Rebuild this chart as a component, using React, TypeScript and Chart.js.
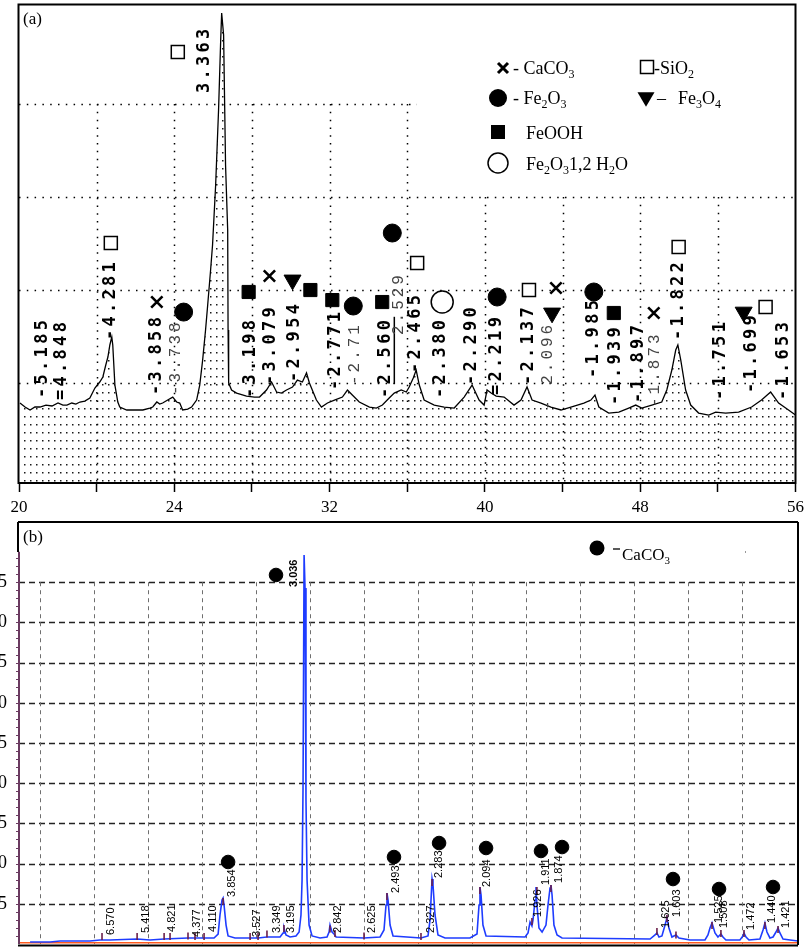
import React, { useEffect, useRef } from 'react';
import { Chart, registerables } from 'chart.js';

Chart.register(...registerables);

const SERIF = "'Liberation Serif', 'Times New Roman', serif";
const MONO = "'DejaVu Sans Mono', monospace";
const LIGHTMONO = "'Liberation Mono', monospace";
const NARROW = "'Liberation Sans Narrow', 'Liberation Sans', Arial, sans-serif";

// ---------------- Panel (a) ----------------
const aTheta = [16.05, 16.31, 16.57, 16.82, 17.08, 17.39, 17.70, 18.01, 18.26, 18.47, 18.72, 18.93, 19.14, 19.39, 19.65, 19.91, 20.16, 20.32, 20.47, 20.58, 20.68, 20.78, 20.83, 20.94, 21.09, 21.19, 21.55, 21.96, 22.38, 22.74, 22.89, 23.10, 23.25, 23.40, 23.66, 23.92, 24.12, 24.28, 24.43, 24.69, 24.89, 25.15, 25.31, 25.46, 25.61, 25.72, 25.87, 25.97, 26.13, 26.28, 26.39, 26.44, 26.54, 26.59, 26.64, 26.75, 26.77, 26.80, 26.95, 27.21, 27.72, 28.13, 28.39, 28.75, 29.01, 29.27, 29.52, 29.78, 30.09, 30.34, 30.60, 30.81, 30.96, 31.32, 31.58, 31.89, 32.25, 32.66, 32.92, 33.17, 33.53, 34.05, 34.41, 34.72, 35.07, 35.33, 35.69, 35.95, 36.10, 36.31, 36.46, 36.62, 36.87, 37.39, 37.90, 38.42, 38.93, 39.34, 39.70, 39.96, 40.11, 40.32, 40.58, 40.99, 41.50, 41.86, 42.17, 42.43, 42.89, 43.40, 43.92, 44.43, 45.10, 45.46, 45.67, 45.87, 46.38, 46.90, 47.41, 47.77, 48.08, 48.60, 49.11, 49.37, 49.63, 49.83, 49.94, 50.09, 50.34, 50.60, 51.01, 51.53, 51.89, 52.40, 53.07, 53.74, 54.25, 54.72, 55.13, 55.64, 56.0];
const aIntensity = [78.5, 74.2, 71.0, 74.2, 74.2, 76.3, 75.3, 78.5, 76.3, 76.3, 78.5, 77.4, 79.6, 80.6, 83.9, 94.6, 101.1, 106.5, 119.4, 128.0, 140.9, 149.5, 140.9, 97.8, 79.6, 74.2, 71.0, 71.0, 71.0, 73.1, 74.2, 79.6, 77.4, 78.5, 81.7, 84.9, 79.6, 78.5, 71.0, 72.0, 74.2, 81.7, 97.8, 124.7, 157.0, 183.9, 221.5, 248.4, 312.9, 393.6, 468.8, 497.9, 474.2, 404.3, 334.4, 264.5, 157.0, 100.0, 92.5, 89.2, 86.0, 84.9, 84.9, 92.5, 101.1, 90.3, 89.2, 92.5, 95.7, 103.2, 101.1, 110.8, 100.0, 81.7, 74.2, 78.5, 81.7, 84.9, 92.5, 87.1, 79.6, 74.2, 73.1, 76.3, 83.9, 89.2, 92.5, 90.3, 95.7, 105.4, 114.0, 97.8, 81.7, 76.3, 74.2, 73.1, 84.9, 97.8, 81.7, 76.3, 92.5, 89.2, 86.0, 84.9, 76.3, 81.7, 95.7, 81.7, 78.5, 74.2, 71.0, 74.2, 78.5, 81.7, 87.1, 74.2, 67.7, 68.8, 73.1, 76.3, 73.1, 76.3, 79.6, 92.5, 114.0, 135.5, 140.9, 124.7, 92.5, 76.3, 67.7, 65.6, 68.8, 67.7, 68.8, 74.2, 81.7, 90.3, 78.5, 71.0, 65.6];

const aTickValues = [16, 20, 24, 28, 32, 36, 40, 44, 48, 52, 56];
const aTickLabels: Record<string, string> = { '16': '20', '24': '24', '32': '32', '40': '40', '48': '48', '56': '56' };
const aGridLevels = [100, 200, 300, 400];

const aSiO2X = [24.18, 20.73, 36.51, 42.27, 49.98, 54.46];
const aSiO2Y = [455.9, 250.5, 229.0, 200.0, 246.2, 181.7];
const aFe2O3X = [24.48, 33.22, 35.23, 40.63, 45.61];
const aFe2O3Y = [176.3, 182.8, 261.3, 192.5, 197.9];
const aFeOOHX = [27.83, 31.01, 32.14, 34.71, 46.64];
const aFeOOHY = [197.9, 200.0, 189.2, 187.1, 175.3];
const aFe3O4X = [30.09, 43.46, 53.33];
const aFe3O4Y = [210.8, 175.3, 176.3];
const aCaCO3X = [23.10, 28.90, 43.66, 48.70];
const aCaCO3Y = [187.1, 215.1, 202.2, 175.3];
const aHydX = [37.80];
const aHydY = [187.1];

const aPeakText = ['-5.185', '=4.848', '-4.281', '-3.858', '-3.738', '3.363', '-3.198', '-3.079', '-2.954', '-2.771', '-2.71', '-2.560', '2.529', '-2.465', '-2.380', '-2.290', '=2.219', '-2.137', '- 2.096', '-1.985', '-1.939', '-1.897', '-1.873', '-1.822', '-1.751', '-1.699', '-1.653'];
const aPeakX = [17.23, 18.21, 20.73, 23.10, 24.07, 25.56, 27.93, 28.96, 30.19, 32.30, 33.28, 34.87, 35.54, 36.41, 37.70, 39.29, 40.58, 42.27, 43.25, 45.61, 46.75, 47.93, 48.75, 49.98, 52.14, 53.74, 55.38];
const aPeakY = [83.9, 81.7, 146.2, 87.1, 87.1, 411.8, 83.9, 97.8, 101.1, 92.5, 97.8, 83.9, 151.6, 110.8, 83.9, 97.8, 87.1, 97.8, 71.0, 105.4, 76.3, 78.5, 74.2, 146.2, 81.7, 89.2, 81.7];
const aPeakLight = [4, 10, 12, 18, 22];
const aPeakUnderline = [11];

// ---------------- Panel (b) ----------------
const bTheta = [9.26, 10.74, 11.48, 13.70, 14.44, 15.19, 17.19, 18.15, 19.19, 20.96, 22.15, 22.89, 23.19, 23.33, 23.48, 23.56, 23.63, 23.78, 23.93, 24.44, 26.15, 26.81, 27.78, 28.0, 28.07, 28.22, 28.52, 28.96, 29.19, 29.33, 29.41, 29.48, 29.56, 29.63, 29.70, 29.78, 29.93, 30.15, 30.74, 31.26, 31.41, 31.48, 31.63, 31.78, 31.93, 34.0, 35.19, 35.48, 35.63, 35.70, 35.78, 35.93, 36.15, 38.22, 38.74, 38.89, 39.04, 39.11, 39.26, 39.48, 40.0, 41.85, 42.37, 42.52, 42.59, 42.67, 42.81, 43.04, 45.93, 46.15, 46.30, 46.44, 46.52, 46.67, 46.74, 46.81, 46.96, 47.19, 47.48, 47.63, 47.78, 47.85, 47.93, 48.07, 48.30, 48.67, 55.19, 55.56, 55.70, 55.85, 56.07, 56.30, 56.44, 56.59, 56.81, 57.11, 57.33, 58.15, 59.26, 59.48, 59.63, 59.78, 60.0, 60.22, 60.44, 60.59, 60.81, 61.85, 62.07, 62.15, 62.30, 62.52, 63.33, 63.56, 63.70, 63.85, 64.07, 64.30, 64.52, 64.67, 64.81, 65.04, 65.56, 66.15];
const bIntensity = [0.25, 0.25, 0.37, 0.37, 0.5, 0.5, 0.62, 0.5, 0.62, 0.75, 0.75, 0.75, 1.24, 3.61, 5.47, 5.72, 4.85, 2.36, 1.0, 0.75, 0.75, 0.87, 0.87, 1.37, 1.99, 1.12, 0.87, 1.0, 1.49, 3.61, 7.96, 19.15, 48.38, 44.28, 17.91, 7.96, 2.36, 1.0, 0.75, 0.87, 1.49, 2.36, 1.49, 1.24, 0.87, 0.75, 0.87, 1.74, 4.85, 6.34, 5.47, 2.36, 1.0, 0.75, 1.0, 2.99, 8.08, 7.34, 3.61, 1.12, 0.75, 0.75, 1.24, 4.85, 7.09, 6.09, 2.36, 1.0, 0.87, 1.37, 2.74, 2.24, 2.99, 5.47, 7.09, 4.85, 1.99, 1.49, 2.36, 4.85, 6.97, 7.34, 6.09, 2.36, 1.12, 0.75, 0.62, 1.12, 1.37, 0.87, 1.0, 2.36, 3.23, 1.99, 0.87, 1.12, 0.75, 0.5, 0.5, 1.12, 1.99, 2.61, 1.37, 0.87, 1.24, 0.87, 0.5, 0.5, 1.0, 1.37, 0.87, 0.5, 0.62, 1.74, 2.61, 1.49, 0.75, 0.87, 1.49, 1.99, 1.37, 0.62, 0.5, 0.37];
const bBackgroundTheta = [8.44, 66.15];
const bBackground = [0.15, 0.15];

const bTicksY = [5, 10, 15, 20, 25, 30, 35, 40, 45];
const bGridX = [10, 14, 18, 22, 26, 30, 34, 38, 42, 46, 50, 54, 58, 62];

const bMarkX = [23.93, 27.48, 36.22, 39.56, 43.04, 47.11, 48.67, 56.89, 60.30, 64.30];
const bMarkY = [10.2, 45.9, 10.82, 12.56, 11.94, 11.57, 12.06, 8.08, 6.84, 7.09];

// reference stick markers at identified peaks
const bStickX = [14.59, 17.19, 19.19, 19.63, 20.96, 21.48, 22.15, 23.56, 25.56, 26.15, 26.81, 28.07, 31.48, 31.85, 34.0, 35.70, 38.22, 39.04, 42.59, 46.44, 46.81, 47.85, 55.70, 56.44, 57.11, 59.78, 60.44, 62.15, 63.70, 64.67];
const bStickY = [0.93, 0.93, 0.93, 0.93, 1.0, 0.93, 0.93, 5.29, 0.93, 0.93, 1.24, 1.93, 1.87, 1.31, 1.0, 5.91, 0.93, 7.65, 6.65, 2.80, 6.65, 6.90, 1.55, 3.17, 1.12, 2.30, 1.31, 1.31, 2.30, 1.80];

const bPeakText = ['6.570', '5.418', '4.821', '4.377', '4.110', '3.854', '3.527', '3.349', '3.195', '3.036', '2.842', '2.625', '2.493', '2.327', '2.283', '2.094', '1.926', '1.911', '1.874', '1.625', '1.603', '1.525', '1.508', '1.472', '1.440', '1.421'];
const bPeakX = [15.26, 17.85, 19.78, 21.63, 22.81, 24.22, 26.07, 27.56, 28.59, 28.81, 32.07, 34.59, 36.37, 38.96, 39.56, 43.11, 46.89, 47.48, 48.44, 56.37, 57.19, 60.30, 60.67, 62.67, 64.22, 65.26];
const bPeakY = [1.12, 1.37, 1.49, 0.87, 1.49, 5.85, 0.87, 1.37, 1.37, 44.4, 1.37, 1.37, 6.34, 1.37, 8.21, 7.09, 3.36, 7.34, 7.59, 1.99, 3.36, 2.61, 1.99, 1.74, 2.61, 1.99];
const bPeakBold = [9];

type Rich = [string, boolean][];
const aLegendText: Rich[] = [
  [['- CaCO', false], ['3', true]],
  [['-SiO', false], ['2', true]],
  [['- Fe', false], ['2', true], ['O', false], ['3', true]],
  [['Fe', false], ['3', true], ['O', false], ['4', true]],
  [['FeOOH', false]],
  [['Fe', false], ['2', true], ['O', false], ['3', true], ['1,2 H', false], ['2', true], ['O', false]],
];
const bLegendText: Rich = [['CaCO', false], ['3', true]];

function drawRich(ctx: CanvasRenderingContext2D, parts: Rich, x: number, y: number, size: number) {
  let cx = x;
  ctx.save();
  ctx.fillStyle = '#000';
  ctx.textAlign = 'left';
  ctx.textBaseline = 'alphabetic';
  for (const [t, sub] of parts) {
    ctx.font = `${sub ? Math.round(size * 0.66) : size}px ${SERIF}`;
    ctx.fillText(t, cx, sub ? y + size * 0.22 : y);
    cx += ctx.measureText(t).width;
  }
  ctx.restore();
}

function rotText(ctx: CanvasRenderingContext2D, text: string, px: number, py: number, font: string, color: string, spacing: string, underline = false) {
  ctx.save();
  ctx.translate(px, py);
  ctx.rotate(-Math.PI / 2);
  ctx.font = font;
  ctx.fillStyle = color;
  ctx.textAlign = 'left';
  ctx.textBaseline = 'middle';
  (ctx as any).letterSpacing = spacing;
  ctx.fillText(text, 0, 0);
  if (underline) {
    const w = ctx.measureText(text).width;
    ctx.strokeStyle = color;
    ctx.lineWidth = 1.5;
    ctx.beginPath();
    ctx.moveTo(14, 9);
    ctx.lineTo(w, 9);
    ctx.stroke();
  }
  ctx.restore();
}

function shape(ctx: CanvasRenderingContext2D, kind: string, x: number, y: number, r: number) {
  ctx.save();
  ctx.fillStyle = '#000';
  ctx.strokeStyle = '#000';
  ctx.lineWidth = 1.5;
  ctx.beginPath();
  if (kind === 'x') {
    ctx.lineWidth = 3;
    ctx.moveTo(x - r, y - r); ctx.lineTo(x + r, y + r);
    ctx.moveTo(x + r, y - r); ctx.lineTo(x - r, y + r);
    ctx.stroke();
  } else if (kind === 'osq') {
    ctx.rect(x - r, y - r, 2 * r, 2 * r); ctx.stroke();
  } else if (kind === 'sq') {
    ctx.rect(x - r, y - r, 2 * r, 2 * r); ctx.fill();
  } else if (kind === 'dot') {
    ctx.arc(x, y, r, 0, Math.PI * 2); ctx.fill();
  } else if (kind === 'odot') {
    ctx.arc(x, y, r, 0, Math.PI * 2); ctx.stroke();
  } else if (kind === 'tri') {
    ctx.moveTo(x - r, y - r * 0.8); ctx.lineTo(x + r, y - r * 0.8); ctx.lineTo(x, y + r * 0.9); ctx.closePath(); ctx.fill();
  }
  ctx.restore();
}

function seg(ctx: CanvasRenderingContext2D, x1: number, y1: number, x2: number, y2: number) {
  ctx.beginPath();
  ctx.moveTo(x1, y1);
  ctx.lineTo(x2, y2);
  ctx.stroke();
}

const panelAPlugin = {
  id: 'panelA',
  beforeDatasetsDraw(chart: any) {
    const { ctx, chartArea: ca, scales } = chart;
    const x = scales.x, y = scales.y;
    ctx.save();
    ctx.strokeStyle = '#000';
    ctx.lineWidth = 1.5;
    ctx.setLineDash([1.5, 6.3]);
    aGridLevels.forEach((lv) => {
      const py = Math.round(y.getPixelForValue(lv)) + 0.5;
      const xEnd = lv === 400 ? x.getPixelForValue(36.5) : ca.right;
      seg(ctx, ca.left, py, xEnd, py);
    });
    aTickValues.forEach((v) => {
      if (v <= 16 || v >= 56) return;
      const px = Math.round(x.getPixelForValue(v)) + 0.5;
      const top = y.getPixelForValue(v <= 36 ? 400 : 300);
      seg(ctx, px, top, px, ca.bottom);
    });
    ctx.restore();
  },
  afterDatasetsDraw(chart: any) {
    const { ctx, scales } = chart;
    const x = scales.x, y = scales.y;
    aPeakText.forEach((t, i) => {
      const light = aPeakLight.includes(i);
      rotText(
        ctx, t, x.getPixelForValue(aPeakX[i]), y.getPixelForValue(aPeakY[i]),
        light ? `16px ${LIGHTMONO}` : `bold 17px ${MONO}`,
        light ? '#444' : '#000',
        light ? '3px' : '3.3px',
        aPeakUnderline.includes(i)
      );
    });
    // legend
    shape(ctx, 'x', 503, 68, 5);
    drawRich(ctx, aLegendText[0], 513, 74, 18);
    shape(ctx, 'osq', 647, 67, 6.5);
    drawRich(ctx, aLegendText[1], 654, 74, 18);
    shape(ctx, 'dot', 498, 98, 9);
    drawRich(ctx, aLegendText[2], 513, 104, 18);
    shape(ctx, 'tri', 646, 99, 8.5);
    ctx.save(); ctx.fillStyle = '#000'; ctx.font = `18px ${SERIF}`; ctx.fillText('–', 657, 104); ctx.restore();
    drawRich(ctx, aLegendText[3], 678, 104, 18);
    shape(ctx, 'sq', 498, 132, 7);
    drawRich(ctx, aLegendText[4], 526, 139, 18);
    shape(ctx, 'odot', 498, 163, 10);
    drawRich(ctx, aLegendText[5], 526, 170, 18);
    ctx.save();
    ctx.fillStyle = '#000';
    ctx.font = `17px ${SERIF}`;
    ctx.textBaseline = 'alphabetic';
    ctx.fillText('(a)', 23, 24);
    ctx.restore();
  },
  afterDraw(chart: any) {
    const { ctx, chartArea: ca } = chart;
    ctx.save();
    ctx.strokeStyle = '#000';
    ctx.lineWidth = 2;
    ctx.strokeRect(ca.left - 0.5, ca.top - 0.5, ca.right - ca.left + 0.5, ca.bottom - ca.top + 0.5);
    ctx.restore();
  },
};

const panelBPlugin = {
  id: 'panelB',
  beforeDatasetsDraw(chart: any) {
    const { ctx, chartArea: ca, scales } = chart;
    const x = scales.x, y = scales.y;
    ctx.save();
    ctx.strokeStyle = '#222';
    ctx.lineWidth = 1.3;
    ctx.setLineDash([6, 4]);
    bTicksY.forEach((v) => {
      const py = Math.round(y.getPixelForValue(v)) + 0.5;
      seg(ctx, ca.left, py, ca.right, py);
    });
    ctx.strokeStyle = '#6f6f6f';
    ctx.lineWidth = 1;
    ctx.setLineDash([4, 4]);
    bGridX.forEach((v) => {
      const px = Math.round(x.getPixelForValue(v)) + 0.5;
      seg(ctx, px, y.getPixelForValue(45), px, ca.bottom);
    });
    ctx.restore();
  },
  afterDatasetsDraw(chart: any) {
    const { ctx, chartArea: ca, scales } = chart;
    const x = scales.x, y = scales.y;
    bPeakText.forEach((t, i) => {
      rotText(ctx, t, x.getPixelForValue(bPeakX[i]), y.getPixelForValue(bPeakY[i]),
        bPeakBold.includes(i) ? `bold 11px ${NARROW}` : `11px ${NARROW}`, '#000', '0px');
    });
    // y tick labels (clipped by the left edge, as in the original)
    ctx.save();
    ctx.fillStyle = '#000';
    ctx.font = `18px ${SERIF}`;
    ctx.textAlign = 'right';
    ctx.textBaseline = 'middle';
    bTicksY.forEach((v) => {
      ctx.fillText(String(v), ca.left - 12, y.getPixelForValue(v));
    });
    ctx.restore();
    // left axis (purple) with minor ticks
    ctx.save();
    ctx.strokeStyle = '#6a3a60';
    ctx.lineWidth = 2;
    const axTop = y.getPixelForValue(48.8);
    seg(ctx, ca.left, axTop, ca.left, ca.bottom);
    ctx.lineWidth = 1;
    for (let v = 1; v <= 48; v++) {
      const py = Math.round(y.getPixelForValue(v)) + 0.5;
      seg(ctx, ca.left - 3, py, ca.left + 1, py);
    }
    ctx.restore();
    // legend
    shape(ctx, 'dot', 597, 548 - 515, 7.5);
    ctx.save();
    ctx.strokeStyle = '#000';
    ctx.lineWidth = 1.3;
    seg(ctx, 613, 549 - 515, 620, 549 - 515);
    ctx.restore();
    drawRich(ctx, bLegendText, 622, 560 - 515, 17);
    ctx.save();
    ctx.fillStyle = '#000';
    ctx.font = `17px ${SERIF}`;
    ctx.fillText('(b)', 23, 542 - 515);
    ctx.fillStyle = '#999';
    ctx.fillRect(745, 551 - 515, 1, 2);
    ctx.restore();
  },
  afterDraw(chart: any) {
    const { ctx, chartArea: ca } = chart;
    ctx.save();
    ctx.strokeStyle = '#000';
    ctx.lineWidth = 2;
    seg(ctx, ca.left - 1, ca.top, ca.right, ca.top);
    seg(ctx, ca.right, ca.top, ca.right, ca.bottom + 1);
    seg(ctx, ca.left - 1, ca.bottom + 1.5, ca.right, ca.bottom + 1.5);
    seg(ctx, ca.left - 1, ca.top, ca.left - 1, ca.top + 30);
    ctx.restore();
  },
};

function makePattern(): CanvasPattern | string {
  const tile = document.createElement('canvas');
  tile.width = 6;
  tile.height = 8;
  const t = tile.getContext('2d');
  if (!t) return 'rgba(0,0,0,0)';
  t.fillStyle = '#1a1a1a';
  t.fillRect(0, 0, 1.5, 1.5);
  const p = t.createPattern(tile, 'repeat');
  return p || 'rgba(0,0,0,0)';
}

function pts(xs: number[], ys: number[]) {
  return xs.map((v, i) => ({ x: v, y: ys[i] }));
}

export default function App() {
  const refA = useRef<HTMLCanvasElement>(null);
  const refB = useRef<HTMLCanvasElement>(null);

  useEffect(() => {
    if (!refA.current || !refB.current) return;
    const marker = (data: any, style: any, r: number, fill: string, bw: number, rot = 0, border = '#000') => ({
      data, showLine: false, pointStyle: style, pointRadius: r, pointBackgroundColor: fill,
      pointBorderColor: border, pointBorderWidth: bw, pointRotation: rot, order: 0, clip: false,
    });

    const chartA = new Chart(refA.current, {
      type: 'line',
      data: {
        datasets: [
          marker(pts(aSiO2X, aSiO2Y), 'rect', 9.2, '#fff', 1.5),
          marker(pts(aFe2O3X, aFe2O3Y), 'circle', 9, '#000', 1),
          marker(pts(aFeOOHX, aFeOOHY), 'rect', 9.3, '#000', 1),
          marker(pts(aFe3O4X, aFe3O4Y), 'triangle', 9.8, '#000', 1, 180),
          marker(pts(aCaCO3X, aCaCO3Y), 'crossRot', 8, '#000', 2.6),
          marker(pts(aHydX, aHydY), 'circle', 11, '#fff', 1.5),
          {
            data: pts(aTheta, aIntensity),
            borderColor: '#000', borderWidth: 1.3, pointRadius: 0, tension: 0,
            fill: 'start', backgroundColor: makePattern(), order: 5,
          } as any,
        ],
      },
      options: {
        responsive: false,
        animation: false,
        events: [],
        layout: { autoPadding: false, padding: { left: 19, right: 11, top: 5, bottom: 0 } },
        plugins: { legend: { display: false }, tooltip: { enabled: false } },
        scales: {
          x: {
            type: 'linear', min: 16, max: 56,
            afterBuildTicks: (s: any) => { s.ticks = aTickValues.map((v) => ({ value: v })); },
            afterFit: (s: any) => { s.height = 32; },
            ticks: {
              autoSkip: false, maxRotation: 0, padding: 5, color: '#000',
              font: { family: SERIF, size: 17 },
              callback: (v: any) => aTickLabels[String(v)] ?? '',
            },
            grid: { display: true, drawOnChartArea: false, drawTicks: true, tickLength: 9, tickColor: '#000', tickWidth: 1.5 },
            border: { display: true, color: '#000', width: 2 },
          },
          y: { display: false, min: -7.5, max: 506.5 },
        },
      } as any,
      plugins: [panelAPlugin],
    });

    const chartB = new Chart(refB.current, {
      type: 'line',
      data: {
        datasets: [
          marker(pts(bMarkX, bMarkY), 'circle', 6.8, '#000', 1),
          { ...marker(pts(bStickX, bStickY), 'line', 3.5, '#6b1f4a', 1.6, 90, '#6b1f4a'), order: 0.5 },
          {
            data: pts(bTheta, bIntensity), borderColor: '#1e3cff', borderWidth: 1.6,
            pointRadius: 0, tension: 0, fill: false, order: 1,
          } as any,
          {
            data: pts(bBackgroundTheta, bBackground), borderColor: '#ff5a1e', borderWidth: 1.6,
            pointRadius: 0, tension: 0, fill: false, order: 2,
          } as any,
        ],
      },
      options: {
        responsive: false,
        animation: false,
        events: [],
        layout: { autoPadding: false, padding: { left: 19, right: 11, top: 7, bottom: 3 } },
        plugins: { legend: { display: false }, tooltip: { enabled: false } },
        scales: {
          x: { type: 'linear', min: 8.44, max: 66.15, display: false },
          y: { min: 0, max: 52.49, display: false },
        },
      } as any,
      plugins: [panelBPlugin],
    });

    return () => {
      chartA.destroy();
      chartB.destroy();
    };
  }, []);

  return (
    <div style={{ position: 'absolute', left: 0, top: 0, width: 809, height: 947, background: '#fff', overflow: 'hidden' }}>
      <canvas ref={refA} width={809} height={515} style={{ display: 'block', position: 'absolute', left: 0, top: 0 }} />
      <canvas ref={refB} width={809} height={432} style={{ display: 'block', position: 'absolute', left: 0, top: 515 }} />
    </div>
  );
}
